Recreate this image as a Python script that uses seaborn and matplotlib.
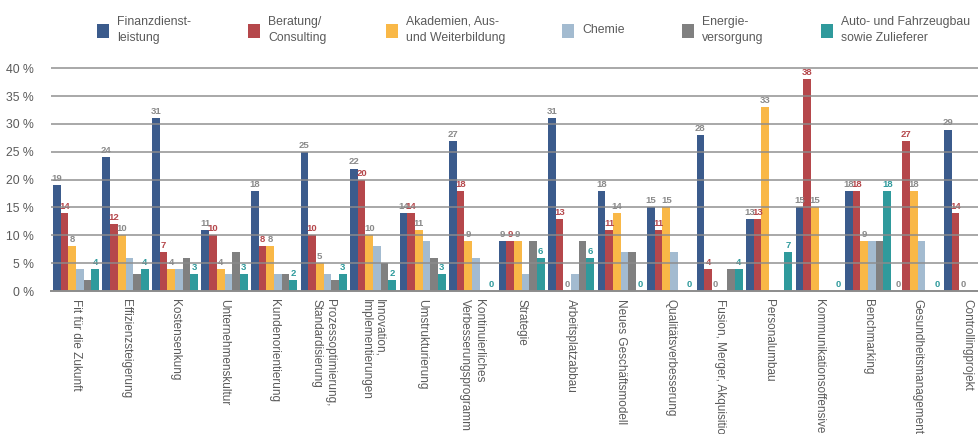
import matplotlib
matplotlib.use("Agg")
import matplotlib.pyplot as plt
import matplotlib.patches as mpatches
import pandas as pd
import seaborn as sns

# --- data -----------------------------------------------------------------
categories = [
    "Fit für die Zukunft",
    "Effizienzsteigerung",
    "Kostensenkung",
    "Unternehmenskultur",
    "Kundenorientierung",
    "Prozessoptimierung,\nStandardisierung",
    "Innovation,\nImplementierungen",
    "Umstrukturierung",
    "Kontinuierliches\nVerbesserungsprogramm",
    "Strategie",
    "Arbeitsplatzabbau",
    "Neues Geschäftsmodell",
    "Qualitätsverbesserung",
    "Fusion, Merger, Akquisition",
    "Personalumbau",
    "Kommunikationsoffensive",
    "Benchmarking",
    "Gesundheitsmanagement",
    "Controllingprojekt",
]

series_names = [
    "Finanzdienst-\nleistung",
    "Beratung/\nConsulting",
    "Akademien, Aus-\nund Weiterbildung",
    "Chemie",
    "Energie-\nversorgung",
    "Auto- und Fahrzeugbau\nsowie Zulieferer",
]

finanz    = [19, 24, 31, 11, 18, 25, 22, 14, 27, 9, 31, 18, 15, 28, 13, 15, 18, 0, 29]
beratung  = [14, 12, 7, 10, 8, 10, 20, 14, 18, 9, 13, 11, 11, 4, 13, 38, 18, 27, 14]
akademien = [8, 10, 4, 4, 8, 5, 10, 11, 9, 9, 0, 14, 15, 0, 33, 15, 9, 18, 0]
chemie    = [4, 6, 4, 3, 3, 3, 8, 9, 6, 3, 3, 7, 7, 0, 0, 0, 9, 9, 0]
energie   = [2, 3, 6, 7, 3, 2, 5, 6, 0, 9, 9, 7, 0, 4, 0, 0, 9, 0, 0]
auto      = [4, 4, 3, 3, 2, 3, 2, 3, 0, 6, 6, 0, 0, 4, 7, 0, 18, 0, 0]

y_ticks = [0, 5, 10, 15, 20, 25, 30, 35, 40]

# --- styling --------------------------------------------------------------
colors = ["#3b5b8c", "#b5474b", "#f9b847", "#a3bbd0", "#808080", "#2f9a9c"]
label_colors = {0: "#8a8a8a", 1: "#b5474b", 2: "#8a8a8a", 5: "#2f9a9c"}
text_color = "#5a5a5a"

sns.set_theme(style="white")
plt.rcParams["font.family"] = ["Liberation Sans", "DejaVu Sans"]

all_series = [finanz, beratung, akademien, chemie, energie, auto]
rows = []
for name, values in zip(series_names, all_series):
    for cat, v in zip(categories, values):
        rows.append({"Kategorie": cat, "Branche": name, "Wert": v})
df = pd.DataFrame(rows)

W, H = 979, 434
fig = plt.figure(figsize=(W / 100, H / 100), dpi=100)
left = 50.7 / W
bottom = 1 - 291 / H
height = (291 - 65.5) / H
ax = fig.add_axes([left, bottom, 1 - left, height])

sns.barplot(
    data=df, x="Kategorie", y="Wert", hue="Branche",
    order=categories, hue_order=series_names,
    palette=colors, saturation=1, width=0.93, gap=0,
    errorbar=None, legend=False, ax=ax, linewidth=0,
)

# value labels above the labelled series
for idx, col in label_colors.items():
    cont = ax.containers[idx]
    ax.bar_label(
        cont, labels=[str(v) for v in all_series[idx]],
        color=col, fontsize=6.8, fontweight="bold", padding=1.5,
    )

ax.set_xlim(-0.511, 18.24)
ax.set_ylim(0, 40.5)
ax.set_yticks(y_ticks)
ax.set_yticklabels([f"{t} %" for t in y_ticks], fontsize=8.8, color=text_color)
ax.set_xticks(range(len(categories)))
ax.set_xticklabels(categories, rotation=-90, ha="center", va="top",
                   multialignment="left", fontsize=8.5, color=text_color,
                   linespacing=1.15)
ax.tick_params(axis="x", length=0, pad=6)
ax.tick_params(axis="y", length=0, pad=12)
ax.set_xlabel("")
ax.set_ylabel("")

# horizontal guides drawn over the bars
ax.grid(False)
for t in y_ticks[1:]:
    ax.axhline(t, color="#8c8c8c", lw=1.4, alpha=0.75, zorder=5)
for s in ["top", "right", "left"]:
    ax.spines[s].set_visible(False)
ax.spines["bottom"].set_color("#8c8c8c")
ax.spines["bottom"].set_linewidth(1.4)
ax.spines["bottom"].set_zorder(5)

# legend row across the top: colour square + two-line caption
legend_x = [97, 248, 386, 562, 682, 821]
for x0, c, name in zip(legend_x, colors, series_names):
    fig.add_artist(mpatches.Rectangle(
        (x0 / W, 1 - 37.5 / H), 12 / W, 13 / H,
        transform=fig.transFigure, facecolor=c, edgecolor="none"))
    fig.text((x0 + 20) / W, 1 - 30 / H, name, ha="left", va="center",
             fontsize=8.8, color=text_color, linespacing=1.45)

fig.savefig("out.png", dpi=100)
